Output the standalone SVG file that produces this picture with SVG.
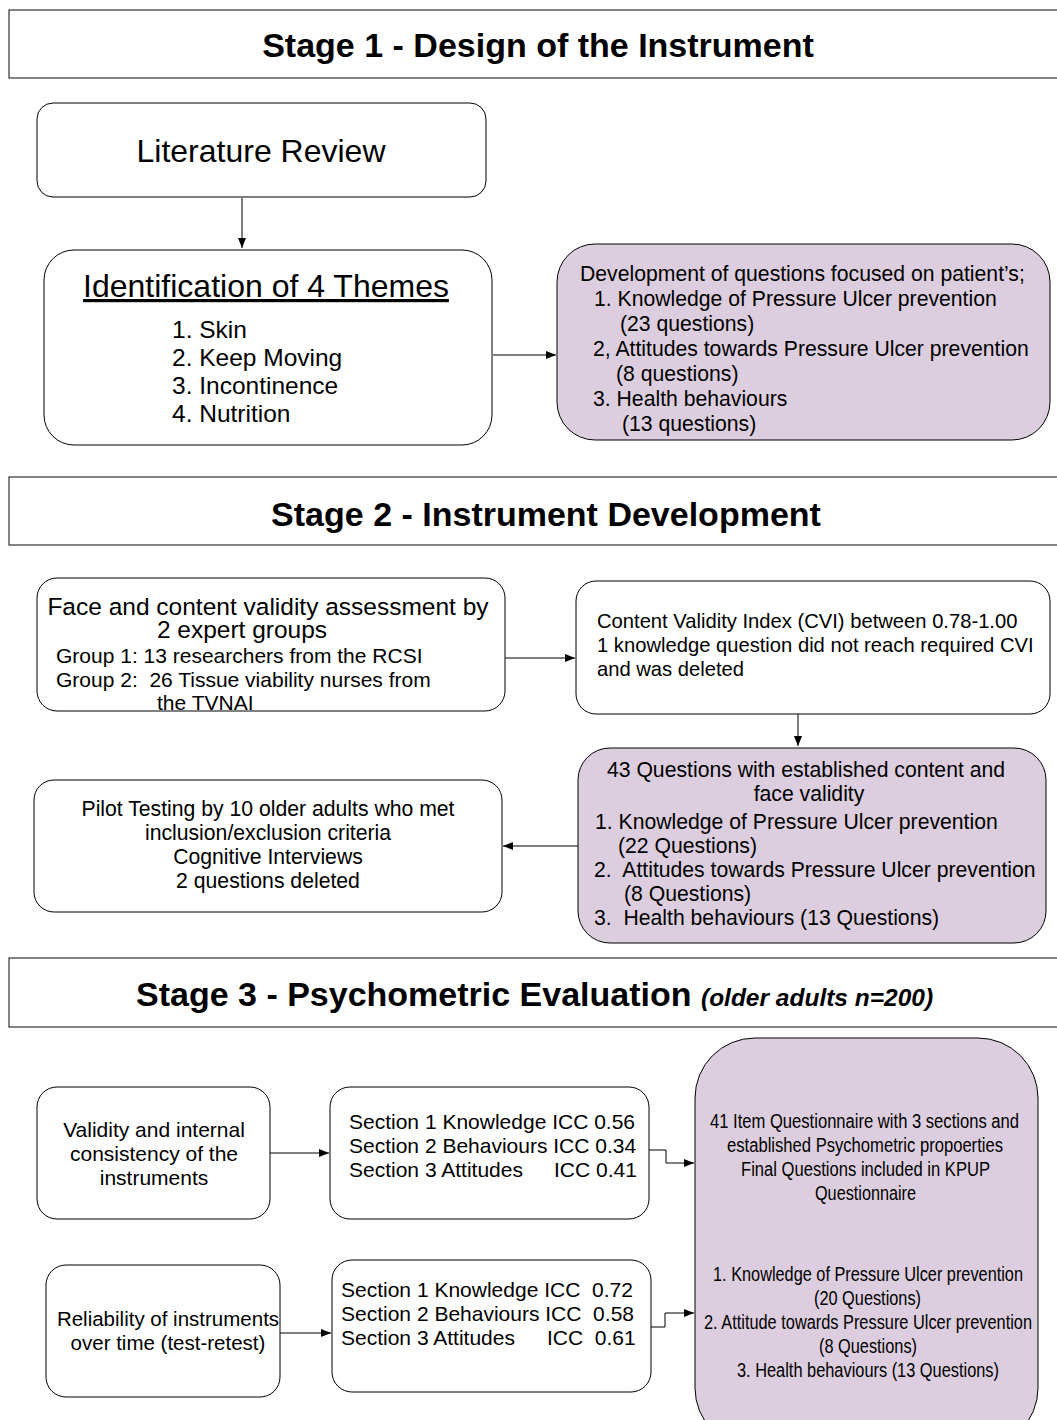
<svg xmlns="http://www.w3.org/2000/svg" width="1057" height="1420" viewBox="0 0 1057 1420">
<defs>
<marker id="ah" markerWidth="10" markerHeight="8" refX="10" refY="4" orient="auto" markerUnits="userSpaceOnUse">
<path d="M0,0 L10,4 L0,8 Z" fill="#000"/>
</marker>
<style>
.hdr{fill:#fff;stroke:#333;stroke-width:1.2}
.box{fill:#fff;stroke:#000;stroke-width:1}
.pbox{fill:#dccede;stroke:#000;stroke-width:1}
.ht{font-family:"Liberation Sans",Arial,sans-serif;font-weight:bold;font-size:34px;fill:#000}
.t{font-family:"Liberation Sans",Arial,sans-serif;fill:#000;white-space:pre}
.n{font-family:"Liberation Sans",Arial,sans-serif;fill:#000;font-size:20px}
.c{fill:none;stroke:#000;stroke-width:1;marker-end:url(#ah)}
</style>
</defs>
<rect width="1057" height="1420" fill="#fff"/>

<g id="stage1-header">
<rect class="hdr" x="9" y="10" width="1060" height="68"/>
<text class="ht" x="538" y="57" text-anchor="middle">Stage 1 - Design of the Instrument</text>
</g>

<g id="literature-review">
<rect class="box" x="37" y="103" width="449" height="94" rx="16"/>
<text class="t" x="261" y="162" text-anchor="middle" font-size="32">Literature Review</text>
</g>

<g id="themes">
<rect class="box" x="44" y="250" width="448" height="195" rx="30"/>
<text class="t" x="266" y="297" text-anchor="middle" font-size="32" text-decoration="underline">Identification of 4 Themes</text>
<text class="t" font-size="24.5"><tspan x="172" y="338">1. Skin</tspan><tspan x="172" y="366">2. Keep Moving</tspan><tspan x="172" y="394">3. Incontinence</tspan><tspan x="172" y="422">4. Nutrition</tspan></text>
</g>

<g id="question-development">
<rect class="pbox" x="557" y="244" width="493" height="196" rx="38"/>
<text class="t" font-size="21.2"><tspan x="580" y="281">Development of questions focused on patient’s;</tspan><tspan x="594" y="306">1. Knowledge of Pressure Ulcer prevention</tspan><tspan x="620" y="331">(23 questions)</tspan><tspan x="593" y="356">2, Attitudes towards Pressure Ulcer prevention</tspan><tspan x="616" y="381">(8 questions)</tspan><tspan x="593" y="406">3. Health behaviours</tspan><tspan x="622" y="431">(13 questions)</tspan></text>
</g>

<g id="stage2-header">
<rect class="hdr" x="9" y="477" width="1060" height="68"/>
<text class="ht" x="546" y="526" text-anchor="middle">Stage 2 - Instrument Development</text>
</g>

<g id="face-content-validity">
<rect class="box" x="37" y="578" width="468" height="133" rx="20"/>
<text class="t" font-size="24.5" text-anchor="middle"><tspan x="268" y="615">Face and content validity assessment by</tspan><tspan x="242" y="638">2 expert groups</tspan></text>
<text class="t" font-size="21"><tspan x="56" y="663">Group 1: 13 researchers from the RCSI</tspan><tspan x="56" y="687">Group 2:  26 Tissue viability nurses from</tspan><tspan x="157" y="710">the TVNAI</tspan></text>
</g>

<g id="cvi">
<rect class="box" x="576" y="581" width="474" height="133" rx="20"/>
<text class="t" font-size="20.2"><tspan x="597" y="628">Content Validity Index (CVI) between 0.78-1.00</tspan><tspan x="597" y="652">1 knowledge question did not reach required CVI</tspan><tspan x="597" y="676">and was deleted</tspan></text>
</g>

<g id="established-43">
<rect class="pbox" x="578" y="748" width="468" height="195" rx="32"/>
<text class="t" font-size="21.2"><tspan x="806" y="777" text-anchor="middle">43 Questions with established content and</tspan><tspan x="809" y="801" text-anchor="middle">face validity</tspan><tspan x="595" y="829">1. Knowledge of Pressure Ulcer prevention</tspan><tspan x="618" y="853">(22 Questions)</tspan><tspan x="594" y="877">2.  Attitudes towards Pressure Ulcer prevention</tspan><tspan x="624" y="901">(8 Questions)</tspan><tspan x="594" y="925">3.  Health behaviours (13 Questions)</tspan></text>
</g>

<g id="pilot-testing">
<rect class="box" x="34" y="780" width="468" height="132" rx="20"/>
<text class="t" font-size="21.2" text-anchor="middle"><tspan x="268" y="816">Pilot Testing by 10 older adults who met</tspan><tspan x="268" y="840">inclusion/exclusion criteria</tspan><tspan x="268" y="864">Cognitive Interviews</tspan><tspan x="268" y="888">2 questions deleted</tspan></text>
</g>

<g id="stage3-header">
<rect class="hdr" x="9" y="958" width="1060" height="69"/>
<text class="ht" x="136" y="1006">Stage 3 - Psychometric Evaluation <tspan font-size="24.5" font-style="italic">(older adults n=200)</tspan></text>
</g>

<g id="validity-consistency">
<rect class="box" x="37" y="1087" width="233" height="132" rx="20"/>
<text class="t" font-size="21" text-anchor="middle"><tspan x="154" y="1137">Validity and internal</tspan><tspan x="154" y="1161">consistency of the</tspan><tspan x="154" y="1185">instruments</tspan></text>
</g>

<g id="icc-internal">
<rect class="box" x="330" y="1087" width="319" height="132" rx="20"/>
<text class="t" font-size="21"><tspan x="349" y="1129">Section 1 Knowledge ICC 0.56</tspan><tspan x="349" y="1153">Section 2 Behaviours ICC 0.34</tspan><tspan x="349" y="1177">Section 3 Attitudes</tspan><tspan x="554" y="1177">ICC 0.41</tspan></text>
</g>

<g id="reliability">
<rect class="box" x="46" y="1265" width="234" height="132" rx="20"/>
<text class="t" font-size="20.5" text-anchor="middle"><tspan x="168" y="1326">Reliability of instruments</tspan><tspan x="168" y="1350">over time (test-retest)</tspan></text>
</g>

<g id="icc-retest">
<rect class="box" x="332" y="1260" width="319" height="132" rx="20"/>
<text class="t" font-size="21"><tspan x="341" y="1297">Section 1 Knowledge ICC  0.72</tspan><tspan x="341" y="1321">Section 2 Behaviours ICC  0.58</tspan><tspan x="341" y="1345">Section 3 Attitudes</tspan><tspan x="547" y="1345">ICC  0.61</tspan></text>
</g>

<g id="final-questionnaire">
<rect class="pbox" x="695" y="1038" width="343" height="410" rx="60"/>
<text class="n" x="864.5" y="1128" text-anchor="middle" textLength="309" lengthAdjust="spacingAndGlyphs">41 Item Questionnaire with 3 sections and</text>
<text class="n" x="865" y="1152" text-anchor="middle" textLength="276" lengthAdjust="spacingAndGlyphs">established Psychometric propoerties</text>
<text class="n" x="865.5" y="1176" text-anchor="middle" textLength="249" lengthAdjust="spacingAndGlyphs">Final Questions included in KPUP</text>
<text class="n" x="865.5" y="1200" text-anchor="middle" textLength="101" lengthAdjust="spacingAndGlyphs">Questionnaire</text>
<text class="n" x="868" y="1281" text-anchor="middle" textLength="310" lengthAdjust="spacingAndGlyphs">1. Knowledge of Pressure Ulcer prevention</text>
<text class="n" x="867.5" y="1305" text-anchor="middle" textLength="107" lengthAdjust="spacingAndGlyphs">(20 Questions)</text>
<text class="n" x="868" y="1329" text-anchor="middle" textLength="328" lengthAdjust="spacingAndGlyphs">2. Attitude towards Pressure Ulcer prevention</text>
<text class="n" x="868" y="1353" text-anchor="middle" textLength="98" lengthAdjust="spacingAndGlyphs">(8 Questions)</text>
<text class="n" x="868" y="1377" text-anchor="middle" textLength="262" lengthAdjust="spacingAndGlyphs">3. Health behaviours (13 Questions)</text>
</g>

<g id="connectors">
<path class="c" d="M242,198 V248"/>
<path class="c" d="M493,355 H556"/>
<path class="c" d="M505,658 H575"/>
<path class="c" d="M798,714 V746"/>
<path class="c" d="M578,846 H503"/>
<path class="c" d="M270,1153 H329"/>
<path class="c" d="M649,1150 H666 V1163 H694"/>
<path class="c" d="M280,1333 H331"/>
<path class="c" d="M651,1327 H665 V1313 H694"/>
</g>
</svg>
